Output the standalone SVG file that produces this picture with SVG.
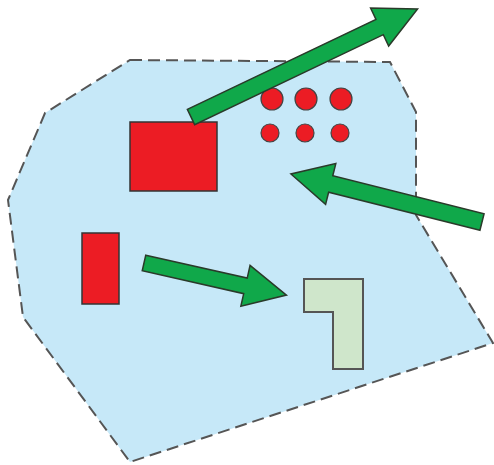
<svg xmlns="http://www.w3.org/2000/svg" width="494" height="465" viewBox="0 0 494 465">
  <style>
    .zone { fill: #c6e8f8; stroke: #555; stroke-width: 2; stroke-dasharray: 12 6; }
    .red { fill: #ec1c24; stroke: #333; stroke-width: 1.5; }
    .dot { fill: #ec1c24; stroke: #444; stroke-width: 1.2; }
    .target { fill: #cfe6cb; stroke: #555; stroke-width: 2; }
    .arrow { fill: #10a84a; stroke: #2a3a2a; stroke-width: 1.5; stroke-linejoin: miter; }
  </style>
  <rect width="494" height="465" fill="#ffffff"/>

  <!-- outer area -->
  <g id="zone">
    <polygon class="zone" points="130,60 390,62 416,112 416,215 493,343 130,462 23,317 8,200 45,113"/>
  </g>

  <!-- items -->
  <g id="big-block">
    <rect class="red" x="130" y="122" width="87" height="69"/>
  </g>
  <g id="small-block">
    <rect class="red" x="82" y="233" width="37" height="71"/>
  </g>
  <g id="dots">
    <circle class="dot" cx="272" cy="99" r="11"/>
    <circle class="dot" cx="306" cy="99" r="11"/>
    <circle class="dot" cx="341" cy="99" r="11"/>
    <circle class="dot" cx="270" cy="133" r="9"/>
    <circle class="dot" cx="305" cy="133" r="9"/>
    <circle class="dot" cx="340" cy="133" r="9"/>
  </g>
  <g id="l-shape">
    <polygon class="target" points="304,279 363,279 363,369 333,369 333,312 304,312"/>
  </g>

  <!-- block arrows -->
  <g id="connectors">
    <path class="arrow" transform="translate(191,117) rotate(-25.5)" d="M0,-8.5 L209,-8.5 L209,-21 L251,0 L209,21 L209,8.5 L0,8.5 Z"/>
    <path class="arrow" transform="translate(482,222) rotate(194.1)" d="M0,-8.5 L156,-8.5 L156,-21 L197,0 L156,21 L156,8.5 L0,8.5 Z"/>
    <path class="arrow" transform="translate(144,263) rotate(12.7)" d="M0,-8 L104,-8 L104,-21 L146,0 L104,21 L104,8 L0,8 Z"/>
  </g>
</svg>
